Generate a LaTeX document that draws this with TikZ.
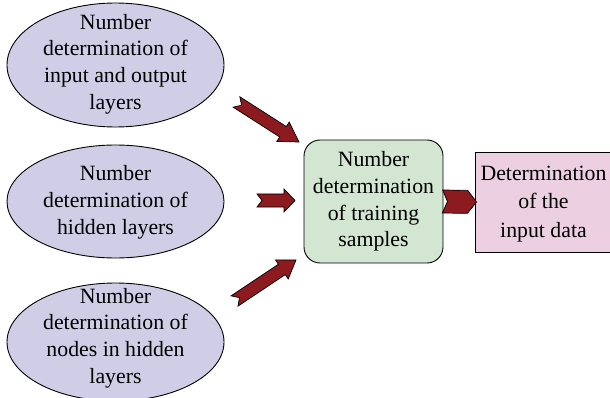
\documentclass[tikz,border=0pt]{standalone}
\usepackage{fontspec}
\setmainfont{Liberation Serif}
\usetikzlibrary{calc,shapes.geometric}

\definecolor{lav}{RGB}{208,206,230}
\definecolor{mint}{RGB}{211,230,210}
\definecolor{rose}{RGB}{236,208,226}
\definecolor{arrowred}{RGB}{140,26,30}

\tikzset{
  oval/.style={ellipse, draw=black, line width=0.9pt, fill=lav, inner sep=0pt,
               minimum width=217pt},
  label text/.style={align=center, inner sep=0pt,
               font=\fontsize{21.8}{26.8}\selectfont},
  greenbox/.style={draw=black, line width=0.9pt, fill=mint, rounded corners=16pt,
               minimum width=139pt, minimum height=123pt, label text},
  pinkbox/.style={draw=black, line width=0.9pt, fill=rose,
               minimum width=170pt, minimum height=100pt},
  fatarrow/.style={draw=black, line width=0.7pt, fill=arrowred, line join=miter}
}

% block arrow with notched tail:
% #1 tail, #2 tip, #3 head length, #4 half shaft width, #5 half head width, #6 notch depth
\newcommand\blockarrow[6]{%
  \coordinate (#1-base) at ($(#2)!#3!(#1)$);
  \draw[fatarrow]
    ($(#1)!#4!90:(#2)$) -- ($(#1-base)!#4!90:(#2)$) -- ($(#1-base)!#5!90:(#2)$)
    -- (#2) -- ($(#1-base)!#5!-90:(#2)$) -- ($(#1-base)!#4!-90:(#2)$)
    -- ($(#1)!#4!-90:(#2)$) -- ($(#1)!#6!(#2)$) -- cycle;}

\begin{document}
\begin{tikzpicture}[x=1pt, y=-1pt]
\useasboundingbox (0,0) rectangle (610,398);
\clip (0,0) rectangle (610,398);

% three inputs
\node[oval, minimum height=124pt] (io) at (115.5,65) {};
\node[label text] (io-text) at (115.5,64) {Number\\determination of\\input and output\\layers};

\node[oval, minimum height=113pt] (hl) at (115.5,201.5) {};
\node[label text] (hl-text) at (115.5,202) {Number\\determination of\\hidden layers};

\node[oval, minimum height=118pt] (nh) at (115.5,342) {};
\node[label text] (nh-text) at (115.5,338) {Number\\determination of\\nodes in hidden\\layers};

% training samples and input data (the latter runs off the right edge)
\node[greenbox] (ts) at (373.5,201.5) {Number\\determination\\of training\\samples};
\node[pinkbox] (idbox) at (560,202) {};
\node[label text, font=\fontsize{21.8}{28.5}\selectfont] (id) at (543.5,204)
  {Determination\\of the\\input data};

% arrow ends
\coordinate (a1t) at (236.5,102);
\coordinate (a1h) at (299,142);
\coordinate (a2t) at (257,200.5);
\coordinate (a2h) at (295,200.5);
\coordinate (a3t) at (234.5,301);
\coordinate (a3h) at (296,260);
\coordinate (a4t) at ($(ts.east)+(-1,0)$);
\coordinate (a4h) at ($(idbox.west)+(2,0)$);

\blockarrow{a1t}{a1h}{19pt}{6.2pt}{11.5pt}{6pt}
\blockarrow{a2t}{a2h}{11pt}{6.5pt}{11.5pt}{5pt}
\blockarrow{a3t}{a3h}{17pt}{6.2pt}{11.5pt}{6pt}
\blockarrow{a4t}{a4h}{9pt}{11.5pt}{11.5pt}{5pt}
\end{tikzpicture}
\end{document}
